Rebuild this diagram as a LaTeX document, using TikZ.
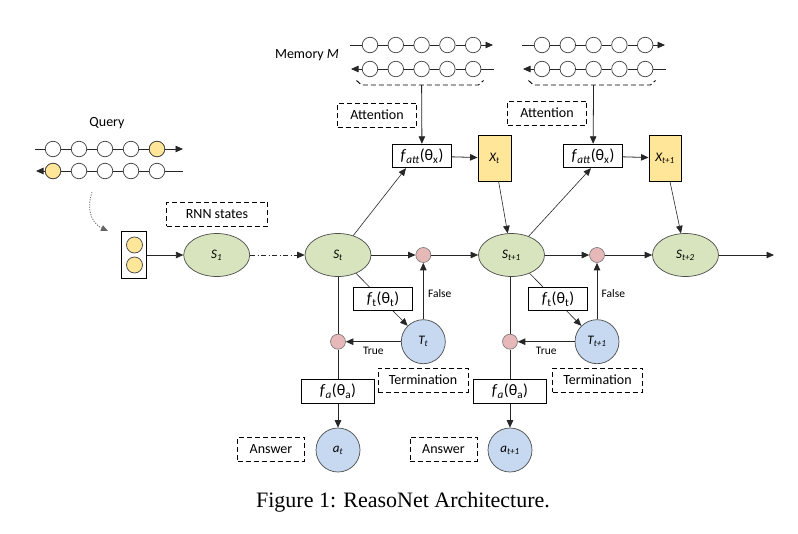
\documentclass[tikz,border=0pt]{standalone}
\usepackage{fontspec}
\setmainfont{Carlito}
\newfontfamily\capfont{Liberation Serif}
\usetikzlibrary{arrows.meta,positioning,shapes.geometric}

\definecolor{rnngreen}{HTML}{D7E4BD}
\definecolor{outblue}{HTML}{C6D9F1}
\definecolor{gatepink}{HTML}{E6B9B8}
\definecolor{qyellow}{HTML}{FFE699}

\tikzset{
  link/.style={draw=black!85, line width=0.8pt},
  arr/.style={link, -{Triangle[length=7.5pt,width=6.5pt]}},
  cell/.style={circle, draw=black!75, fill=white, minimum size=15.5pt, inner sep=0pt, line width=0.7pt},
  rnn/.style={ellipse, draw=black!70, fill=rnngreen, minimum width=66pt, minimum height=43pt,
    inner sep=0pt, line width=0.7pt, font=\fontsize{13}{15}\selectfont\itshape},
  gate/.style={circle, draw=black!55, fill=gatepink, minimum size=15pt, inner sep=0pt, line width=0.6pt},
  outcome/.style={circle, draw=black!70, fill=outblue, minimum size=44pt, inner sep=0pt,
    line width=0.7pt, font=\fontsize{13}{15}\selectfont\itshape},
  func/.style={rectangle, draw, fill=white, line width=0.9pt, inner sep=0pt,
    minimum height=23.5pt, font=\fontsize{16}{18}\selectfont},
  tag/.style={rectangle, draw, dash pattern=on 5pt off 3pt, line width=0.9pt, inner sep=0pt,
    minimum height=24pt, font=\fontsize{14}{16}\selectfont},
  word/.style={font=\fontsize{14}{16}\selectfont},
  small/.style={font=\fontsize{11.5}{13}\selectfont},
}

\begin{document}
\begin{tikzpicture}[x=1pt, y=-1pt]
  \path[use as bounding box] (0,0) rectangle (798,533);

  % query: two directions of the reader
  \node[word] (query) at (107,123) {Query};
  \foreach \i in {1,...,5} {
    \node[cell] (qa\i) at ({53+26*(\i-1)},149) {};
    \node[cell] (qb\i) at ({53+26*(\i-1)},171) {};
  }
  \node[cell, fill=qyellow] at (qa5) {};
  \node[cell, fill=qyellow] at (qb1) {};
  \coordinate (qaIn) at (35,149);
  \coordinate (qaOut) at (183,149);
  \coordinate (qbIn) at (183,171);
  \coordinate (qbOut) at (36,171);
  \draw[link] (qaIn) -- (qa1);
  \draw[link] (qbIn) -- (qb5);
  \foreach \i [evaluate=\i as \j using int(\i+1)] in {1,...,4} {
    \draw[link] (qa\i) -- (qa\j);
    \draw[link] (qb\i) -- (qb\j);
  }
  \draw[arr] (qa5) -- (qaOut);
  \draw[arr] (qb1) -- (qbOut);

  % memory rows, one block per step
  \node[word] (memory) at (307,55) {Memory \textit{M}};
  \foreach \m/\xo in {L/370, R/542} {
    \foreach \i in {1,...,5} {
      \node[cell] (\m top\i) at ({\xo+25.8*(\i-1)},45) {};
      \node[cell] (\m bot\i) at ({\xo+25.8*(\i-1)},69) {};
    }
    \coordinate (\m topIn) at ({\xo-20},45);
    \coordinate (\m topOut) at ({\xo+123},45);
    \coordinate (\m botIn) at ({\xo+124},69);
    \coordinate (\m botOut) at ({\xo-19},69);
    \draw[link] (\m topIn) -- (\m top1);
    \draw[link] (\m botIn) -- (\m bot5);
    \foreach \i [evaluate=\i as \j using int(\i+1)] in {1,...,4} {
      \draw[link] (\m top\i) -- (\m top\j);
      \draw[link] (\m bot\i) -- (\m bot\j);
    }
    \draw[arr] (\m top5) -- (\m topOut);
    \draw[arr] (\m bot1) -- (\m botOut);
    % dashed bracket under the memory
    \draw[black, line width=0.9pt, dash pattern=on 5pt off 3pt]
      ({\xo-13.5},80.5) -- ({\xo-8.5},85) -- ({\xo+108.5},85) -- ({\xo+113.5},80.5);
    \coordinate (\m brk) at (\m bot3 |- 0,85);
  }

  % tags
  \node[tag, minimum width=79pt] (attL) at (377,115) {Attention};
  \node[tag, minimum width=79pt] (attR) at (547,113) {Attention};
  \node[tag, minimum width=101pt] (rnntag) at (217,214) {RNN states};
  \node[tag, minimum width=90pt] (termL) at (423,380) {Termination};
  \node[tag, minimum width=90pt] (termR) at (597.5,380) {Termination};
  \node[tag, minimum width=67pt] (ansL) at (271,449) {Answer};
  \node[tag, minimum width=67pt] (ansR) at (443.5,449) {Answer};

  % query vector
  \node[draw, line width=0.9pt, minimum width=25pt, minimum height=46.5pt, inner sep=0pt] (qbox) at (134,255) {};
  \node[cell, fill=qyellow, minimum size=16pt] (qv1) at (134.5,245) {};
  \node[cell, fill=qyellow, minimum size=16pt] (qv2) at (134.5,265) {};
  \coordinate (qcurveA) at (92,192);
  \coordinate (qcurveB) at (108,231);
  \draw[black!60, line width=0.8pt, dash pattern=on 1.2pt off 1.3pt, -{Triangle[length=7pt,width=6pt]}]
    (qcurveA) .. controls (85,214) and (95,225) .. (qcurveB);

  % states
  \node[rnn] (S1) at (216.7,255) {S\textsubscript{1}};
  \node[rnn] (St) at (338,255) {S\textsubscript{t}};
  \node[rnn] (St1) at (511.5,255) {S\textsubscript{t+1}};
  \node[rnn] (St2) at (685.5,255) {S\textsubscript{t+2}};
  \coordinate (Sout) at (774,255);

  \node[gate] (jF1) at (423.3,255) {};
  \node[gate] (jF2) at (597,255) {};
  \node[gate] (jT1) at (338,341.7) {};
  \node[gate] (jT2) at (510,341.7) {};

  \node[outcome] (Tt) at (423.3,341.7) {T\textsubscript{t}};
  \node[outcome] (Tt1) at (597,341.7) {T\textsubscript{t+1}};
  \node[outcome] (at) at (338,450) {a\textsubscript{t}};
  \node[outcome] (at1) at (510,450) {a\textsubscript{t+1}};

  % attention
  \node[func, minimum width=59pt] (fattL) at (422,156) {\textit{f}\textsubscript{\textit{att}}(θ\textsubscript{x})};
  \node[func, minimum width=59pt] (fattR) at (593,156) {\textit{f}\textsubscript{\textit{att}}(θ\textsubscript{x})};
  \node[draw, fill=qyellow, line width=0.9pt, minimum width=33pt, minimum height=46pt, inner sep=0pt,
    font=\fontsize{13}{15}\selectfont\itshape] (Xt) at (494.5,158) {X\textsubscript{t}};
  \node[draw, fill=qyellow, line width=0.9pt, minimum width=32pt, minimum height=46pt, inner sep=0pt,
    font=\fontsize{13}{15}\selectfont\itshape] (Xt1) at (665,158) {X\textsubscript{t+1}};

  \draw[arr] (Lbrk) -- (fattL);
  \draw[arr] (Rbrk) -- (fattR);
  \draw[arr] (fattL) -- (Xt);
  \draw[arr] (fattR) -- (Xt1);
  \draw[arr, line width=0.6pt] (St) -- ([xshift=-16pt]fattL.south);
  \draw[arr, line width=0.6pt] (St1) -- ([xshift=-2pt]fattR.south);
  \draw[arr, line width=0.6pt] (Xt) -- (St1);
  \draw[arr, line width=0.6pt] (Xt1) -- (St2);

  % recurrence
  \draw[arr] (qbox) -- (S1);
  \draw[arr, dash pattern=on 5pt off 2.5pt on 1pt off 2.5pt] (S1) -- (St);
  \draw[arr] (St) -- (jF1);
  \draw[arr] (jF1) -- (St1);
  \draw[arr] (St1) -- (jF2);
  \draw[arr] (jF2) -- (St2);
  \draw[arr] (St2) -- (Sout);

  % termination gates
  \draw[arr, line width=0.6pt] (St) -- (Tt);
  \draw[arr, line width=0.6pt] (St1) -- (Tt1);
  \node[func, minimum width=59pt] (ftL) at (383,299) {\textit{f}\textsubscript{t}(θ\textsubscript{t})};
  \node[func, minimum width=59pt] (ftR) at (558,299) {\textit{f}\textsubscript{t}(θ\textsubscript{t})};
  \draw[arr] (Tt) -- node[small, right=1pt, pos=0.45] {False} (jF1);
  \draw[arr] (Tt1) -- node[small, right=1pt, pos=0.45] {False} (jF2);
  \draw[arr] (Tt) -- node[small, below=2pt, pos=0.5] {True} (jT1);
  \draw[arr] (Tt1) -- node[small, below=2pt, pos=0.5] {True} (jT2);

  % answers
  \node[func, minimum width=72.5pt, minimum height=24pt] (faL) at (338,391.3) {\textit{f}\textsubscript{\textit{a}}(θ\textsubscript{a})};
  \node[func, minimum width=72.5pt, minimum height=24pt] (faR) at (510,391.3) {\textit{f}\textsubscript{\textit{a}}(θ\textsubscript{a})};
  \draw[link] (St) -- (jT1);
  \draw[link] (St1.south -| jT2) -- (jT2);
  \draw[link] (jT1) -- (faL);
  \draw[link] (jT2) -- (faR);
  \draw[arr] (faL) -- (at);
  \draw[arr] (faR) -- (at1);

  \node[font=\capfont\fontsize{22}{25}\selectfont] (caption) at (403,502) {Figure 1: ReasoNet Architecture.};
\end{tikzpicture}
\end{document}
